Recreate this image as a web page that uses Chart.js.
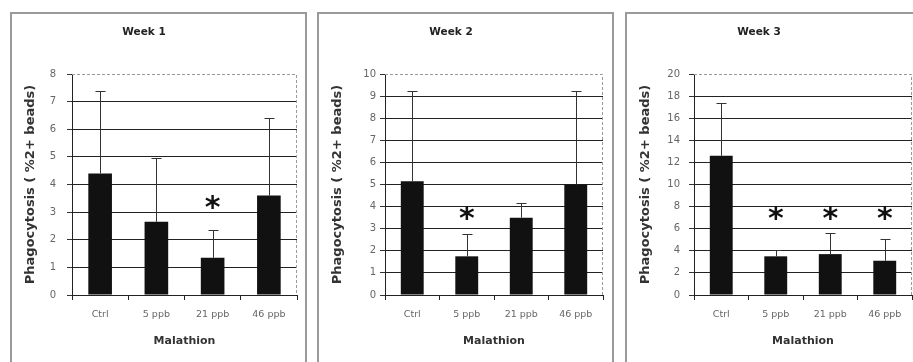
<!DOCTYPE html>
<html lang="en">
  <head>
    <meta charset="UTF-8" />
    <title>Phagocytosis</title>
    <script src="https://cdn.jsdelivr.net/npm/chart.js@4.4.0/dist/chart.umd.min.js"></script>
    <style>
      body {
        margin: 0;
        background: #fff;
        width: 913px;
        height: 362px;
        overflow: hidden;
        position: relative;
      }
      .panel {
        position: absolute;
        top: 12px;
        height: 360px;
        border: 2px solid #9a9a9a;
        box-sizing: border-box;
        background: #fff;
      }
      .panel canvas {
        position: absolute;
        top: 0;
        left: 0;
      }
      #p1 { left: 10px; width: 297px; }
      #p2 { left: 317px; width: 297px; }
      #p3 { left: 625px; width: 300px; }
    </style>
  </head>

  <body>
    <div class="panel" id="p1"><canvas id="week1" width="293" height="348"></canvas></div>
    <div class="panel" id="p2"><canvas id="week2" width="293" height="348"></canvas></div>
    <div class="panel" id="p3"><canvas id="week3" width="286" height="348"></canvas></div>
  </body>
  <script>
    // data
    var categorias = ["Ctrl", "5 ppb", "21 ppb", "46 ppb"];
    var titulos = ["Week 1", "Week 2", "Week 3"];

    var mediaW1 = [4.4, 2.65, 1.35, 3.6];
    var sdW1 = [3.0, 2.3, 1.0, 2.8];
    var estrellaW1 = [null, null, 3.3, null];

    var mediaW2 = [5.15, 1.75, 3.5, 5.0];
    var sdW2 = [4.1, 1.0, 0.65, 4.25];
    var estrellaW2 = [null, 3.6, null, null];

    var mediaW3 = [12.6, 3.5, 3.7, 3.1];
    var sdW3 = [4.8, 0.6, 1.9, 1.95];
    var estrellaW3 = [null, 7.2, 7.2, 7.2];

    var ejeMax = [8, 10, 20];
    var ejePaso = [1, 1, 2];

    var fuente = "'DejaVu Sans', sans-serif";

    // error bars, stars, dashed frame and the week title
    var extras = {
      id: "extras",
      afterDatasetsDraw(chart, args, opts) {
        const ctx = chart.ctx;
        const a = chart.chartArea;
        const yScale = chart.scales.y;
        const meta = chart.getDatasetMeta(0);
        ctx.save();
        // dashed top / right frame
        ctx.strokeStyle = "#9a9a9a";
        ctx.lineWidth = 1;
        ctx.setLineDash([3, 2]);
        ctx.beginPath();
        ctx.moveTo(a.left, a.top + 0.5);
        ctx.lineTo(a.right - 0.5, a.top + 0.5);
        ctx.lineTo(a.right - 0.5, a.bottom);
        ctx.stroke();
        ctx.setLineDash([]);
        // error bars (upper only)
        ctx.strokeStyle = "#333";
        for (var i = 0; i < opts.media.length; i++) {
          var bx = Math.round(meta.data[i].x) + 0.5;
          var y0 = yScale.getPixelForValue(opts.media[i]);
          var y1 = Math.round(yScale.getPixelForValue(opts.media[i] + opts.sd[i])) + 0.5;
          ctx.beginPath();
          ctx.moveTo(bx, y0);
          ctx.lineTo(bx, y1);
          ctx.moveTo(bx - 5, y1);
          ctx.lineTo(bx + 5, y1);
          ctx.stroke();
        }
        // significance stars
        ctx.fillStyle = "#111";
        ctx.font = "bold 30px " + fuente;
        ctx.textAlign = "center";
        ctx.textBaseline = "middle";
        for (var j = 0; j < opts.estrella.length; j++) {
          if (opts.estrella[j] == null) continue;
          ctx.fillText("*", meta.data[j].x, yScale.getPixelForValue(opts.estrella[j]) + 5);
        }
        // title
        ctx.font = "bold 10.5px " + fuente;
        ctx.fillStyle = "#222";
        ctx.fillText(opts.titulo, 132, 18);
        ctx.restore();
      },
    };

    function crearGrafico(id, n, media, sd, estrella, anchoY, padDer, padTick) {
      return new Chart(document.getElementById(id), {
        type: "bar",
        data: {
          labels: categorias,
          datasets: [
            {
              data: media,
              backgroundColor: "#111",
              borderWidth: 0,
              barPercentage: 0.42,
              categoryPercentage: 1,
            },
          ],
        },
        options: {
          responsive: false,
          animation: false,
          devicePixelRatio: 1,
          layout: { padding: { top: 60, right: padDer, bottom: 0, left: 0 } },
          plugins: {
            legend: { display: false },
            tooltip: { enabled: false },
            extras: { media: media, sd: sd, estrella: estrella, titulo: titulos[n] },
          },
          scales: {
            x: {
              afterFit: function (scale) {
                scale.height = 67;
              },
              grid: {
                display: true,
                drawOnChartArea: false,
                offset: true,
                tickLength: 5,
                color: "#222",
              },
              border: { color: "#222", width: 1 },
              ticks: {
                color: "#666",
                font: { family: fuente, size: 9.5 },
                padding: 9,
                maxRotation: 0,
              },
              title: {
                display: true,
                text: "Malathion",
                color: "#333",
                font: { family: fuente, size: 11, weight: "bold" },
                padding: { top: 0, bottom: 14 },
              },
            },
            y: {
              min: 0,
              max: ejeMax[n],
              afterFit: function (scale) {
                scale.width = anchoY;
              },
              grid: {
                color: function (c) {
                  return c.tick && c.tick.value == ejeMax[n] ? "rgba(0,0,0,0)" : "#222";
                },
                tickColor: "#333",
                tickLength: 5,
              },
              border: { color: "#222", width: 1 },
              ticks: {
                stepSize: ejePaso[n],
                color: "#666",
                font: { family: fuente, size: 10 },
                padding: padTick,
              },
              title: {
                display: true,
                text: "Phagocytosis ( %2+ beads)",
                color: "#333",
                font: { family: fuente, size: 13, weight: "bold" },
                padding: { top: 11, bottom: 0 },
              },
            },
          },
        },
        plugins: [extras],
      });
    }

    var chart1 = crearGrafico("week1", 0, mediaW1, sdW1, estrellaW1, 60, 8, 11);
    var chart2 = crearGrafico("week2", 1, mediaW2, sdW2, estrellaW2, 66, 9, 4);
    var chart3 = crearGrafico("week3", 2, mediaW3, sdW3, estrellaW3, 67, 1, 9);
  </script>
</html>
